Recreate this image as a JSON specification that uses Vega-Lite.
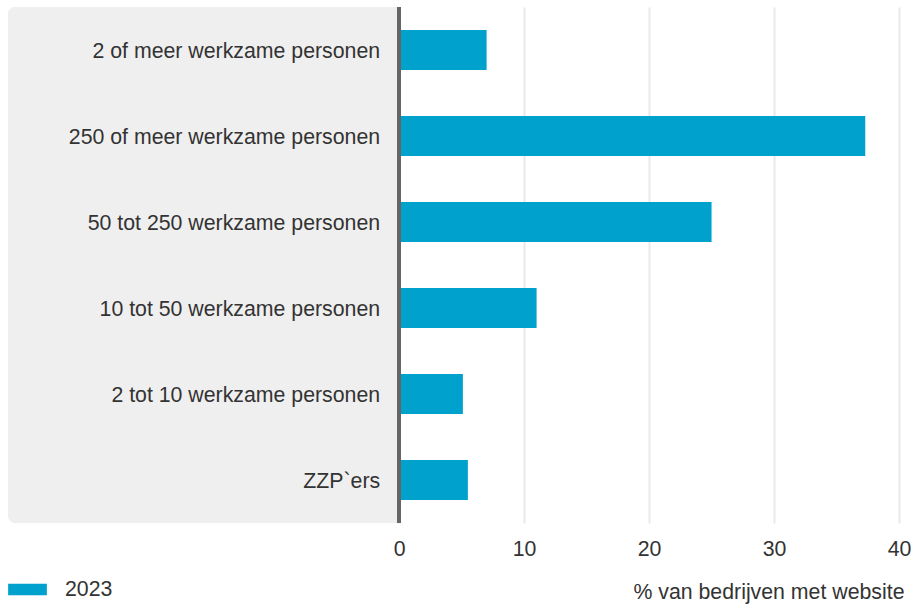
{
  "$schema": "https://vega.github.io/schema/vega-lite/v6.json",
  "width": 891,
  "height": 516,
  "autosize": "none",
  "padding": {"left": 8, "top": 7, "right": 17, "bottom": 84},
  "background": "white",
  "config": {"font": "Liberation Sans, Arial, sans-serif", "view": {"stroke": null}},
  "data": {"values": [
    {"cat": "2 of meer werkzame personen", "pct": 7.0, "jaar": "2023"},
    {"cat": "250 of meer werkzame personen", "pct": 37.3, "jaar": "2023"},
    {"cat": "50 tot 250 werkzame personen", "pct": 25.0, "jaar": "2023"},
    {"cat": "10 tot 50 werkzame personen", "pct": 11.0, "jaar": "2023"},
    {"cat": "2 tot 10 werkzame personen", "pct": 5.1, "jaar": "2023"},
    {"cat": "ZZP`ers", "pct": 5.5, "jaar": "2023"}
  ]},
  "layer": [
    {
      "mark": {"type": "rect", "color": "#efefef", "cornerRadiusTopLeft": 8, "cornerRadiusBottomLeft": 8},
      "encoding": {"x": {"datum": -31.3}, "x2": {"datum": 0}}
    },
    {
      "mark": {"type": "bar", "strokeWidth": 0},
      "encoding": {
        "x": {
          "field": "pct", "type": "quantitative",
          "scale": {"domain": [-31.3, 40], "nice": false, "zero": false},
          "axis": {
            "values": [0, 10, 20, 30, 40],
            "title": "% van bedrijven met website",
            "titleAnchor": "end", "titleAlign": "right", "titleBaseline": "middle", "titleX": 896, "titleY": 69,
            "titleFontSize": 21.3, "titleFontWeight": "normal", "titleColor": "#333333",
            "labelFontSize": 21.3, "labelColor": "#333333", "labelPadding": 15,
            "labelFlush": false, "labelOverlap": false, "labelBound": false,
            "ticks": false, "domain": false,
            "grid": true, "gridColor": "#e9e9e9", "gridWidth": 2
          }
        },
        "y": {
          "field": "cat", "type": "nominal", "sort": null,
          "scale": {"paddingInner": 0.535, "paddingOuter": 0.2675},
          "axis": null
        },
        "color": {
          "field": "jaar", "type": "nominal",
          "scale": {"range": ["#00a1cd"]},
          "legend": {
            "title": null, "orient": "none", "legendX": 0, "legendY": 563,
            "symbolType": "M-1,-0.3H1V0.3H-1Z", "symbolSize": 1500, "symbolStrokeWidth": 0,
            "labelFontSize": 21.3, "labelColor": "#333333", "labelOffset": 18
          }
        }
      }
    },
    {
      "mark": {"type": "text", "align": "right", "baseline": "middle", "dx": -19, "dy": 2, "fontSize": 21.3, "color": "#333333"},
      "encoding": {
        "x": {"datum": 0},
        "y": {"field": "cat", "type": "nominal", "sort": null},
        "text": {"field": "cat"}
      }
    },
    {
      "mark": {"type": "rule", "color": "#666666", "strokeWidth": 3.5},
      "encoding": {"x": {"datum": 0}}
    }
  ]
}
